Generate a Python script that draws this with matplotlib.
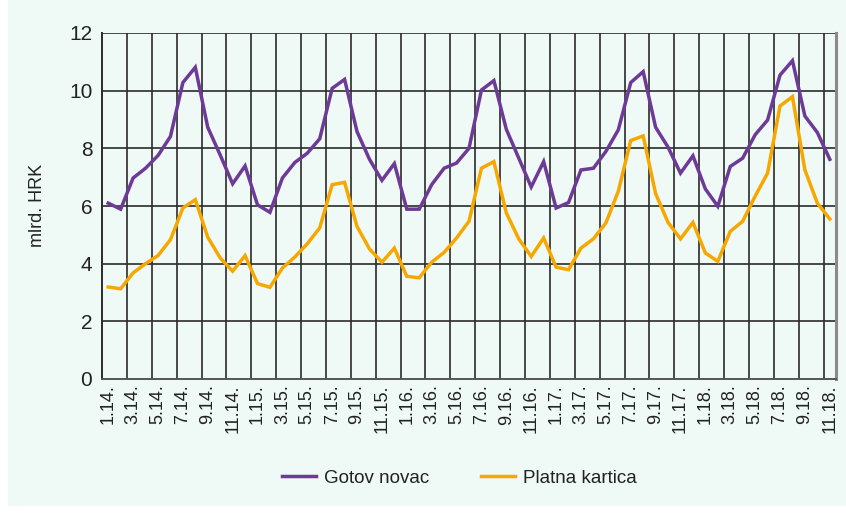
import matplotlib
matplotlib.use("Agg")
import matplotlib.pyplot as plt
from matplotlib.patches import Rectangle

plt.rcParams['font.family'] = ['Liberation Sans', 'DejaVu Sans']

# monthly data, 1.14. - 11.18.
months = [f"{m}.{y}." for y in range(14, 19) for m in range(1, 13)][:59]

gotov_novac = [6.10, 5.89, 6.97, 7.31, 7.75, 8.41, 10.28, 10.81, 8.73, 7.77, 6.77, 7.39,
               6.04, 5.78, 6.97, 7.51, 7.83, 8.33, 10.08, 10.39, 8.58, 7.62, 6.89, 7.47,
               5.89, 5.89, 6.74, 7.31, 7.49, 8.00, 10.02, 10.35, 8.66, 7.66, 6.66, 7.54,
               5.93, 6.12, 7.25, 7.31, 7.89, 8.64, 10.28, 10.66, 8.73, 8.04, 7.14, 7.74,
               6.59, 5.99, 7.37, 7.66, 8.47, 8.98, 10.54, 11.04, 9.12, 8.55, 7.62]

platna_kartica = [3.19, 3.13, 3.68, 4.00, 4.28, 4.83, 5.93, 6.22, 4.92, 4.20, 3.74, 4.28,
                  3.31, 3.18, 3.85, 4.23, 4.69, 5.24, 6.74, 6.82, 5.29, 4.51, 4.05, 4.54,
                  3.56, 3.51, 4.05, 4.39, 4.89, 5.47, 7.31, 7.54, 5.76, 4.86, 4.25, 4.89,
                  3.88, 3.79, 4.54, 4.86, 5.41, 6.51, 8.27, 8.43, 6.43, 5.43, 4.86, 5.43,
                  4.37, 4.08, 5.12, 5.47, 6.34, 7.14, 9.47, 9.79, 7.25, 6.10, 5.55]

purple = '#6e3a97'
orange = '#f6a800'
bg = '#eff9f5'
grid_col = '#2b2b2b'

fig = plt.figure(figsize=(8.46, 5.14), dpi=100, facecolor='white')
fig.patches.append(Rectangle((8 / 846, 8 / 514), 1, 1, transform=fig.transFigure,
                             facecolor=bg, edgecolor='none', zorder=-10))

ax = fig.add_axes([102 / 846, 1 - 379 / 514, 734 / 846, 346 / 514])
ax.set_facecolor(bg)

x = list(range(len(months)))
ax.plot(x, gotov_novac, color=purple, lw=2.5, label='Gotov novac', zorder=3,
        solid_joinstyle='miter')
ax.plot(x, platna_kartica, color=orange, lw=2.5, label='Platna kartica', zorder=3,
        solid_joinstyle='miter')

ax.set_xlim(-0.5, len(months) - 0.5)
ax.set_ylim(0, 12)
ax.set_yticks(range(0, 13, 2))
ax.set_xticks(x[::2])
ax.set_xticklabels(months[::2], rotation=90, fontsize=13, color='#222222')
ax.tick_params(axis='y', labelsize=15, colors='#222222', length=0, pad=7)
ax.tick_params(axis='x', length=0, pad=4, colors='#222222')

# grid: horizontal every 2, vertical between every pair of months
for yv in range(2, 13, 2):
    ax.axhline(yv, color=grid_col, lw=1.2, zorder=1)
for xv in [i + 0.5 for i in range(1, len(months) - 1, 2)]:
    ax.axvline(xv, color=grid_col, lw=1.2, zorder=1)

ax.spines['top'].set_visible(False)
ax.spines['left'].set_color(grid_col)
ax.spines['left'].set_linewidth(1.4)
ax.spines['bottom'].set_color('#555555')
ax.spines['bottom'].set_linewidth(1.4)
ax.spines['right'].set_color('#8a8a8a')
ax.spines['right'].set_linewidth(2.2)

fig.text(37 / 846, 1 - 205 / 514, 'mlrd. HRK', rotation=90, ha='center', va='center',
         fontsize=13, color='#222222')

fig.legend(loc='center', bbox_to_anchor=(0.543, 1 - 478 / 514), ncol=2, frameon=False,
           fontsize=13.5, handlelength=1.8, columnspacing=2.8, handletextpad=0.4,
           labelcolor='#222222')

fig.savefig('out.png', dpi=100, facecolor=fig.get_facecolor())
